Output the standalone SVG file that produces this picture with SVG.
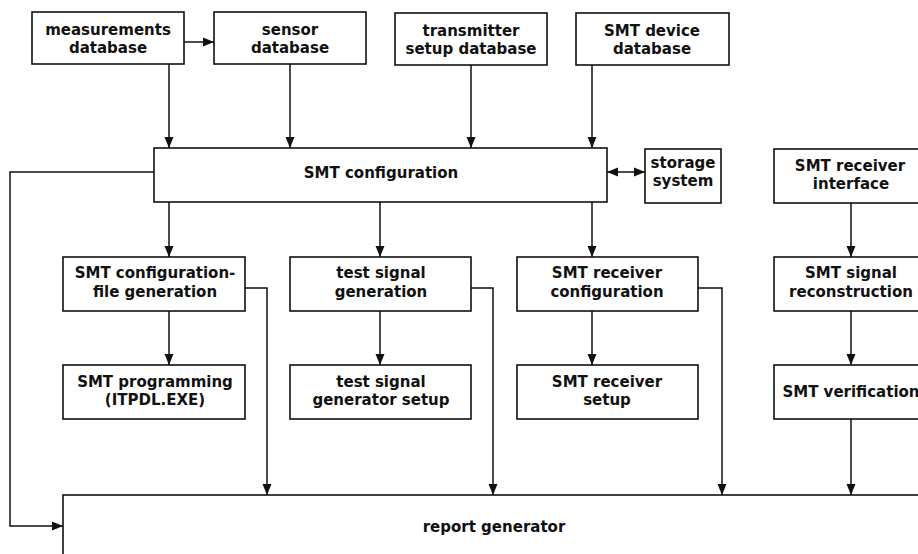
<svg xmlns="http://www.w3.org/2000/svg" width="918" height="554" viewBox="0 0 918 554">
<style>
.box{fill:#fff;stroke:#111;stroke-width:1.6}
.t{font-family:"DejaVu Sans","Liberation Sans",sans-serif;font-weight:bold;font-size:15px;fill:#111;text-anchor:middle}
.c{fill:none;stroke:#111;stroke-width:1.5}
</style>
<defs>
<marker id="ah" markerUnits="userSpaceOnUse" markerWidth="11" markerHeight="11" viewBox="0 0 11 11" refX="11" refY="5.5" orient="auto-start-reverse">
<path d="M0,1 L11,5.5 L0,10 Z" fill="#111"/>
</marker>
</defs>
<rect width="918" height="554" fill="#fff"/>
<g id="connectors">
<line class="c" x1="184" y1="42" x2="214" y2="42" marker-end="url(#ah)"/>
<line class="c" x1="169" y1="64" x2="169" y2="148" marker-end="url(#ah)"/>
<line class="c" x1="290" y1="64" x2="290" y2="148" marker-end="url(#ah)"/>
<line class="c" x1="471" y1="65" x2="471" y2="148" marker-end="url(#ah)"/>
<line class="c" x1="592" y1="65" x2="592" y2="148" marker-end="url(#ah)"/>
<line class="c" x1="607" y1="172" x2="645" y2="172" marker-start="url(#ah)" marker-end="url(#ah)"/>
<polyline class="c" points="154,172 10,172 10,526 63,526" marker-end="url(#ah)"/>
<line class="c" x1="169" y1="202" x2="169" y2="257" marker-end="url(#ah)"/>
<line class="c" x1="380" y1="202" x2="380" y2="257" marker-end="url(#ah)"/>
<line class="c" x1="592" y1="202" x2="592" y2="257" marker-end="url(#ah)"/>
<line class="c" x1="851" y1="203" x2="851" y2="257" marker-end="url(#ah)"/>
<line class="c" x1="169" y1="311" x2="169" y2="365" marker-end="url(#ah)"/>
<line class="c" x1="380" y1="311" x2="380" y2="365" marker-end="url(#ah)"/>
<line class="c" x1="592" y1="311" x2="592" y2="365" marker-end="url(#ah)"/>
<line class="c" x1="851" y1="311" x2="851" y2="365" marker-end="url(#ah)"/>
<polyline class="c" points="245,288 267,288 267,495" marker-end="url(#ah)"/>
<polyline class="c" points="471,288 493,288 493,495" marker-end="url(#ah)"/>
<polyline class="c" points="698,288 722,288 722,495" marker-end="url(#ah)"/>
<line class="c" x1="851" y1="419" x2="851" y2="495" marker-end="url(#ah)"/>
</g>
<g id="measurements-database"><rect class="box" x="32" y="12" width="152" height="52"/><text class="t" x="108" y="35">measurements</text><text class="t" x="108" y="53">database</text></g>
<g id="sensor-database"><rect class="box" x="214" y="12" width="152" height="52"/><text class="t" x="290" y="35">sensor</text><text class="t" x="290" y="53">database</text></g>
<g id="transmitter-setup-database"><rect class="box" x="395" y="13" width="152" height="52"/><text class="t" x="471" y="36">transmitter</text><text class="t" x="471" y="54">setup database</text></g>
<g id="smt-device-database"><rect class="box" x="576" y="13" width="153" height="52"/><text class="t" x="652" y="36">SMT device</text><text class="t" x="652" y="54">database</text></g>
<g id="smt-configuration"><rect class="box" x="154" y="148" width="453" height="54"/><text class="t" x="381" y="178">SMT configuration</text></g>
<g id="storage-system"><rect class="box" x="645" y="149" width="76" height="54"/><text class="t" x="683" y="168">storage</text><text class="t" x="683" y="186">system</text></g>
<g id="smt-receiver-interface"><rect class="box" x="774" y="149" width="154" height="54"/><text class="t" x="850" y="171">SMT receiver</text><text class="t" x="851" y="189">interface</text></g>
<g id="smt-configuration-file-generation"><rect class="box" x="63" y="257" width="182" height="54"/><text class="t" x="155" y="278">SMT configuration-</text><text class="t" x="155" y="297">file generation</text></g>
<g id="test-signal-generation"><rect class="box" x="290" y="257" width="181" height="54"/><text class="t" x="381" y="278">test signal</text><text class="t" x="381" y="297">generation</text></g>
<g id="smt-receiver-configuration"><rect class="box" x="517" y="257" width="181" height="54"/><text class="t" x="607" y="278">SMT receiver</text><text class="t" x="607" y="297">configuration</text></g>
<g id="smt-signal-reconstruction"><rect class="box" x="774" y="257" width="154" height="54"/><text class="t" x="851" y="278">SMT signal</text><text class="t" x="851" y="297">reconstruction</text></g>
<g id="smt-programming"><rect class="box" x="63" y="365" width="182" height="54"/><text class="t" x="155" y="387">SMT programming</text><text class="t" x="155" y="405">(ITPDL.EXE)</text></g>
<g id="test-signal-generator-setup"><rect class="box" x="290" y="365" width="181" height="54"/><text class="t" x="381" y="387">test signal</text><text class="t" x="381" y="405">generator setup</text></g>
<g id="smt-receiver-setup"><rect class="box" x="517" y="365" width="181" height="54"/><text class="t" x="607" y="387">SMT receiver</text><text class="t" x="607" y="405">setup</text></g>
<g id="smt-verification"><rect class="box" x="774" y="365" width="154" height="54"/><text class="t" x="851" y="397">SMT verification</text></g>
<g id="report-generator"><rect class="box" x="63" y="495" width="870" height="80"/><text class="t" x="494" y="532">report generator</text></g>
</svg>
